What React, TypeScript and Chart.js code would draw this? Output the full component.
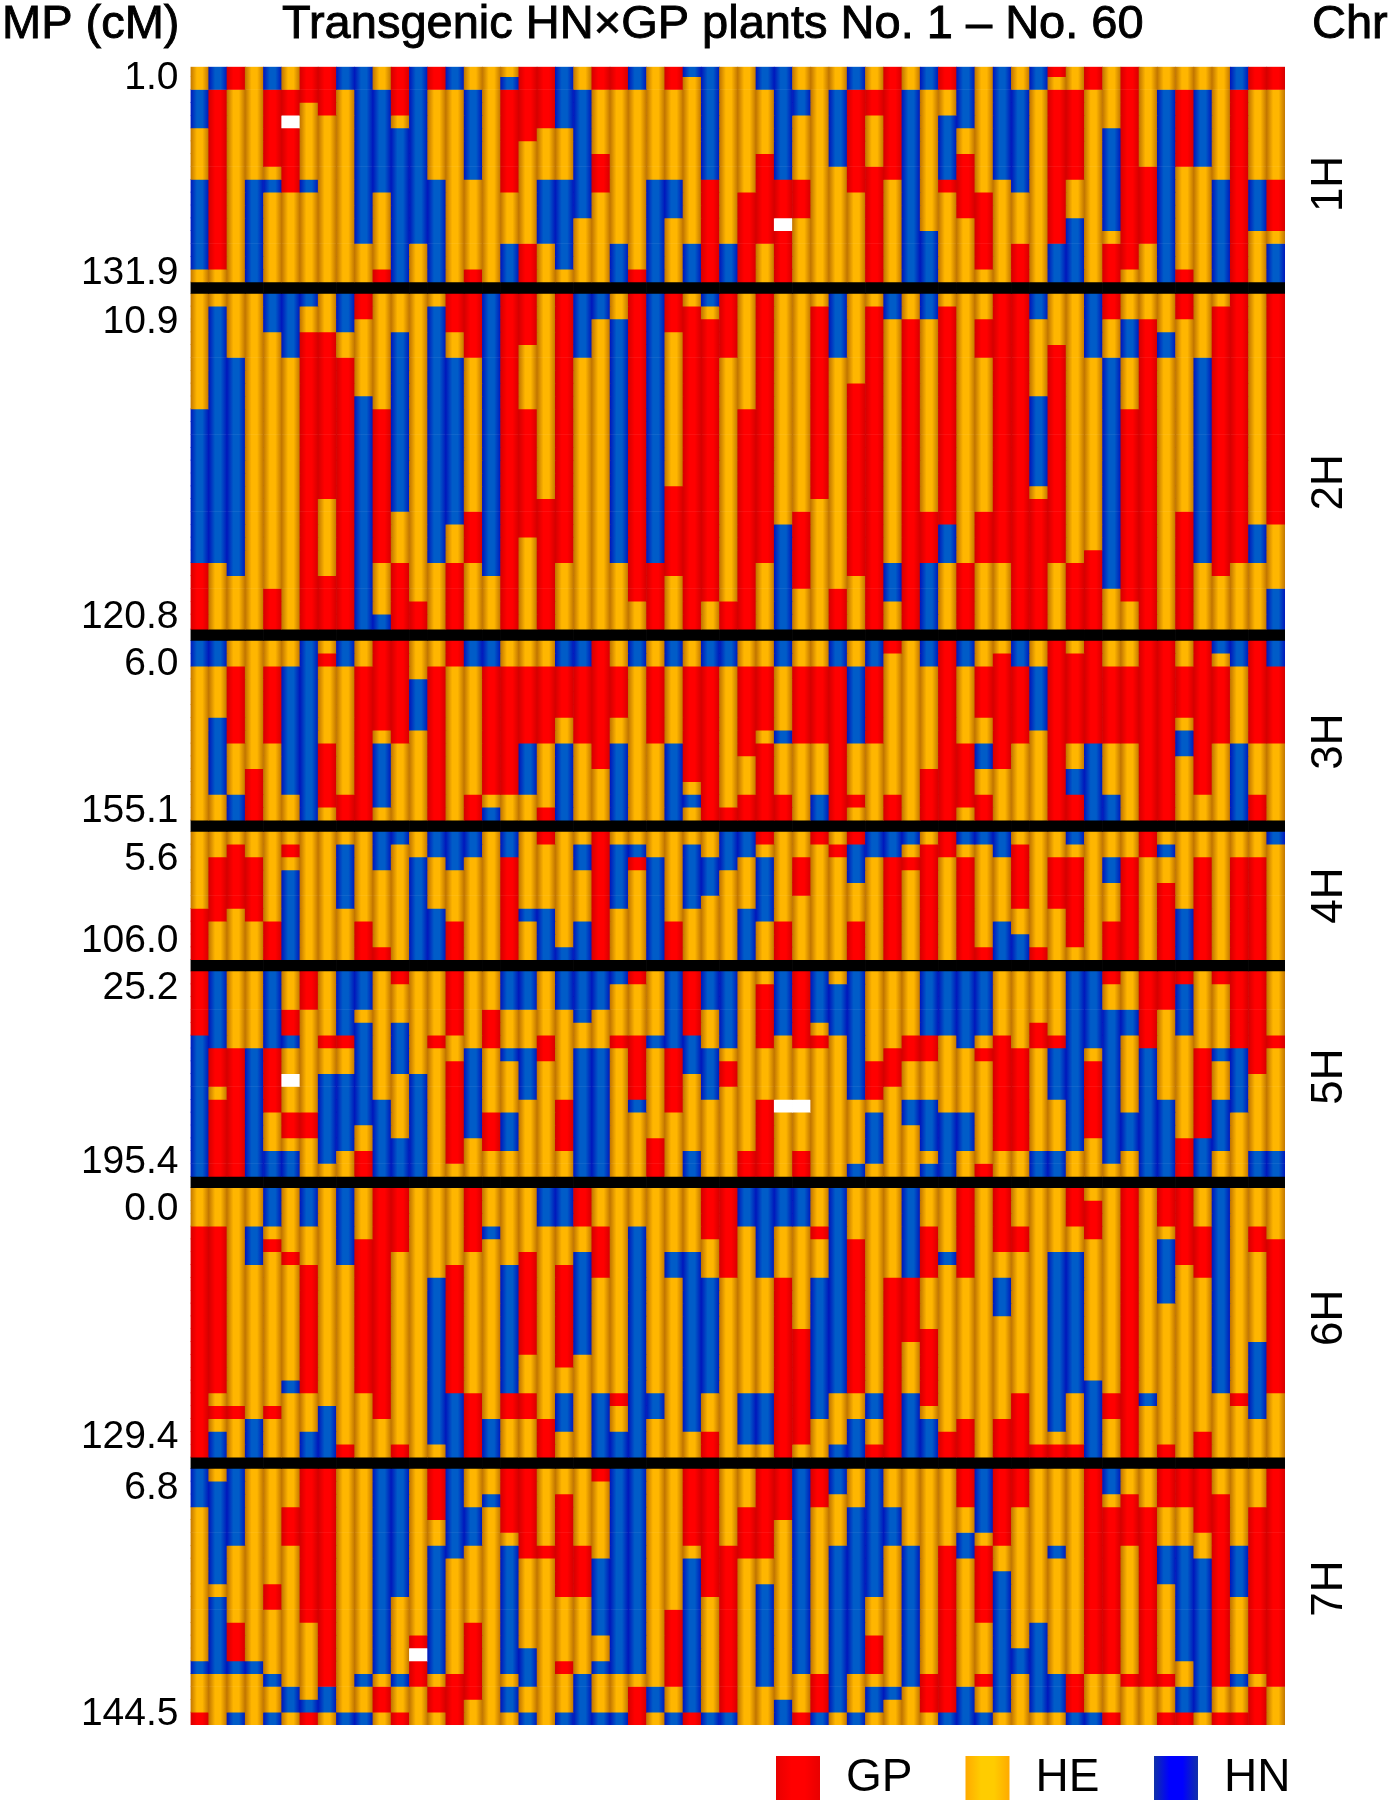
import React, { useEffect, useRef } from "react";
import { Chart, registerables } from "chart.js";

Chart.register(...registerables);

// Genotype runs per plant, top to bottom: G = GP, H = HE, N = HN, W = missing
const chr1H = ["H2N3H4N7H1","N2G14H1","G2H15","H9N8","N2G6H1N1H7","H2G2W1G5H7","G3H6N1H7","G4H13","N2H15","N14H3","H2N8H6G1","G4H1N12","N14H3","G2H7N8","N2H15","H2N7H7G1","H17","H1N1G8H4N3","G6H8G3","G5H4N5H3","N5H4N7H1","H2N10H5","G2H5G3H7","G2H12N3","N2H14G1","H9N8","G2H7N3H5","N1H13N3","N9G8","H14N3","H10G7","N2H5G7H3","N9G3W1G4","H2N2H5G3H5","H17","H2N6H9","N2G8H7","H2G2H4G9","G9H8","H2N15","N2H11N4","G2H2N5G1H7","N5H2G5H5","H10G6H1","N9H8","H2N8H4G3","N2H15","G1H1G12N3","H2G7H3N5","G2H15","H5N8H1G3","G16H1","H8G6H3","H2N15","H2G6H8G1","H2N6H9","H9N8","N2G15","G2H7N4H4","G2H7G4H1N3"];
const chr2H = ["H9N12G5","H1N20H5","H5N17H4","H26","N3H20G3","N5H21","N1H2G23","H3G13H6G4","N3H2G21","G2H6N18","H9G12H4N1","H3N14H4G5","H24G2","H1N20H5","G3H2N13H3G5","G5H12G4H5","N22H4","G26","G4H5G10H7","H16G10","G21H5","N5H21","N2H24","H2N19H5","G24H2","N21G5","G3H12G7H4","H1G25","N1H1G22H2","G5H19G2","H9G17","G21H5","H18N8","H17G6H3","H1G15H10","N5H18G3","H7G15H4","H1G25","N2H19N3H2","H2G24","N2H15G4N5","H1G17N3H5","H21G5","H2G3H12G4H5","G21H5","G26","N2H6N7H1G10","H4G17H5","H21G5","N5H15G6","G2H3N18H3","H2N3H4G15H2","H2G24","H3N2H21","G2H15G9","H5N16H5","H1G21H4","G21H5","H18N3H5","G18H5N3"];
const chr3H = ["N2H12","N2H4N6H2","H2G6H4N2","H10G4","H2G6H6","H2N10H2","N14","H1G1H6G5H1","N2H10G2","H2G12","G7H1N5H1","G8H6","H3N4H7","H2G12","G2H12","N2H10G2","N2G10H1N1","H2G10H2","H2G6N4H2","H2G6H5G1","N2G4H2N6","N2G6H6","G10H4","H2G4H2N6","N2H12","H2G6H6","N2H6N6","H2G9H1N1H1","N2G12","N2H11G1","H2G7H3G2","H2G5H1G6","N2H5N1H4G2","H2G6H6","H2G6H4N2","N2G12","H2N6H4G1H1","N2G6H6","G1H11G2","H14","N2H8G4","G14","N2H6G5H1","H2G4H2N2H2G2","H1G9H4","N2G6H6","H2N5H7","G14","H1G7H2N2G2","G8N6","H2G6H4N2","H2G6H6","G14","G14","H2G4H1N2H5","G12H2","N1H1G6H6","N2H6N6","G8H4G2","N2G6H6"];
const chr4H = ["H6G4","H2G5H3","H1G5H4","H2G5H3","H7G3","H1G1H1N7","H10","H10","H1N5H4","H7G3","N3H6G1","N1H9","H2N8","N2H4N4","N3H4G3","N2H8","H10","N2G8","H6N1H3","G1H5N4","H9N1","H1N2H4N3","G10","H1N5H4","H1N1G1H7","H2N8","H7G3","H1N5H4","H2N3H5","N3H7","N2H4N4","G1H1N5H3","H7G3","H2G3H5","G1H9","H1G1H8","G1N3H3G3","N2H8","N2G8","N1H1G1H7","H1G9","G2H8","N1H1G8","N1H8G1","N2H5N3","H1G5H2N2","H9G1","H2G4H4","N1H1G7H1","H10","H2N2H3G3","H2G8","G2H8","H1N1H2G6","H6N4","H2G8","H10","H2G8","H2G8","N1H9"];
const chr5H = ["G5N11","N6G3H1G6","H6G10","H6N10","N6G5H3N2","H3G2N1H2W1H2G2H1N2","G3H8G2H3","H5G1H2N7H1","N5G1H2N6H2","N3H1N8H2G2","H10N6","G1H3N4H5N3","H8N8","H5G1H10","G5H2G8H1","H6N7H3","H3G3H5G3H2","N3H3N1H4N3H2","N3H3N4H6","H5G2H9","N3H7G4H2","N4H2N10","N3H3N10","N1H4G1H10","G1H4G5N1H5","H5N1H7G3","N6G5H5","G5N3H6N2","N3H3N4H6","N6H1G2H7","H14G2","H1G5H4G6","N5H5W1H5","G6H4W1H3G2","N4H1G1H10","H1N4H11","N10H5N1","H7G3H1N4H1","H6G3H7","H5G2H3N2H4","N5G2H3N4H1N1","N5H6N5","N6H5N3H2","N5H1G1H8G1","H5G9H2","H6G8H2","H4G2H8N2","H5G1N4H4N2","N14H2","N6H1G6H3","G1H2N12H1","H3N2H6N3H2","G6N10","G3H7N6","G1N4H8G3","H6G7N3","G1H5N1H3N4H2","G6N5H5","G8H6N2","H5G1H8N2"];
const chr6H = ["H3G18","H3G13H1G1H1N2","H17G1H3","H3N3H12N3","N3H1G1H12G1H3","H5G1H9N1H5","N3H3G10H3N2","H17N4","N6H14G1","H4G12H5","G18H3","G5H15G1","H21","H7N13H1","H6G10N5","G5H11G5","H3N1H14N3","H6N10G2H3","H5G8H3G2H3","N3H15G3","N3H3G8H2N3H2","G3H2N8H8","H3G4H9N5","H16G1H2N2","H3N18","H16N2H3","H5N2H14","H5N14H2","G4H3N9H3G2","G7H14","N3H13N4H1","N7H9N4H1","N3H4G14","N3H8G9H1","H3G1H3N11H3","N16H4N1","H4G12H2N3","H16N2H2G1","H7G14","N7G5H4N5","H3G4H4G6H1N3","H5N1H13G2","G7H11G3","H21","G5H2N3H8G3","H3G2H11G5","H20G1","H5N14H1G1","G3H2N11H4G1","H1G3H11N6","H16G2H3","G21","H16N1H4","G3H1N5H11G1","G6H15","H3G4H12G2","N16H5","H16G1H4","H3G2H7N6H3","H4G12H5"];
const chr7H = ["N3H12N1H3G1","H1N8H1N6H4","N6H6G3N1H3N1","H15N1H4","H9G2H5N1H2N1","H3G3H11N2H1","G12H6N1G1","G17N2H1","H19N1","H16N1H2N1","N16H1G2H1","N10H6N1H2G1","H13G1W1G2H3","G4H2N10H1G2H1","N7H9G4","H3N3H6G6H2","H2N1H17","G5H1N10H1N2H1","G7H7N3H2N1","H6G1H13","H2G8H5G1H3N1","H6G4H6N4","G1H6N6H2N1H3N1","N16H3N1","N16H1G3","H17N2H1","H11G6H2N1","G6H1N12G1","G10H9N1","H6G13N1","H3G4H13","G7H2N8H3","G4H14N2","N16H3G1","G3H13G3N1","N2H4N13H1","H3N13H3N1","N10H3G3H1N2H1","H3N3H11N1H2","H6N11H3","H16G3H1","H6G13N1","G3H2N2H10N3","N5H1G6H4G1H2N1","G6H2N11H1","G3H11N2H4","H12N7H1","H6N1H9N3H1","H16G3N1","G16H3N1","N2H1G13H3G1","H2G4H10G1H3","H3G14H3","G3H3N3H7G1H2G1","G3H3N9H2N2G1","G5H2N12H1","H2G15H2G1","H6N4H6N1H2G1","H3G13H1G3","G17H3"];

const chromosomes = [chr1H, chr2H, chr3H, chr4H, chr5H, chr6H, chr7H];
const chrNames = ["1H", "2H", "3H", "4H", "5H", "6H", "7H"];
const chrLabelAt = [9.14, 32.4, 52.6, 64.6, 78.7, 97.5, 118.6];
const mpLabels = ["1.0","131.9","10.9","120.8","6.0","155.1","5.6","106.0","25.2","195.4","0.0","129.4","6.8","144.5"];
const mpLabelAt = [0.9,16.08,19.92,42.87,46.58,58.04,61.77,68.17,71.83,85.37,89.07,106.83,110.77,128.39];
const plants = Array.from({ length: 60 }, (_, i) => `No. ${i + 1}`);
const genotypeNames = ["GP", "HE", "HN"];
const genotypeCodes = ["G", "H", "N"];

// Display heights of rows that differ from one unit, and the separator's height
const rowHeightOverrides: Record<string, number> = { "0:0": 0.78, "1:25": 1.17 };
const bandHeight = 0.88;

const SHADES: Record<string, [string, string]> = {
  G: ["#d60000", "#ff0000"],
  H: ["#c27600", "#ffb600"],
  N: ["#0018bc", "#005cc8"],
  W: ["#ffffff", "#ffffff"],
  B: ["#000000", "#000000"],
};
const LEGEND_SHADES: Record<string, [string, string]> = {
  G: ["#e80000", "#ff0000"],
  H: ["#ffaa00", "#ffcc00"],
  N: ["#1030a8", "#0000ff"],
};

function expand(run: string): string[] {
  const out: string[] = [];
  for (const m of run.matchAll(/([GHNW])(\d+)/g)) {
    for (let i = 0; i < Number(m[2]); i++) out.push(m[1]);
  }
  return out;
}

type Row = { height: number; cells: string[] };

function buildRows(): Row[] {
  const rows: Row[] = [];
  chromosomes.forEach((chr, c) => {
    const cols = chr.map(expand);
    const n = cols[0].length;
    for (let r = 0; r < n; r++) {
      rows.push({
        height: rowHeightOverrides[`${c}:${r}`] ?? 1,
        cells: cols.map((col) => col[r] ?? "H"),
      });
    }
    if (c < chromosomes.length - 1) {
      rows.push({ height: bandHeight, cells: plants.map(() => "B") });
    }
  });
  return rows;
}

function columnGradient(ctx: CanvasRenderingContext2D, x0: number, x1: number, shades: [string, string]) {
  const g = ctx.createLinearGradient(x0, 0, x1, 0);
  g.addColorStop(0, shades[0]);
  g.addColorStop(0.35, shades[1]);
  g.addColorStop(0.65, shades[1]);
  g.addColorStop(1, shades[0]);
  return g;
}

const FONT = '"Liberation Sans", Arial, sans-serif';

function heavyText(ctx: CanvasRenderingContext2D, text: string, x: number, y: number) {
  ctx.fillText(text, x, y);
  ctx.strokeText(text, x, y);
}

const chartText = {
  id: "chartText",
  afterDraw(chart: any) {
    const ctx = chart.ctx as CanvasRenderingContext2D;
    ctx.save();
    ctx.fillStyle = "#000";
    ctx.strokeStyle = "#000";
    ctx.lineWidth = 0.9;
    ctx.textBaseline = "middle";
    ctx.textAlign = "left";
    ctx.font = `47px ${FONT}`;
    heavyText(ctx, "MP (cM)", 2, 25);
    heavyText(ctx, "Transgenic HN×GP plants No. 1 – No. 60", 282, 25);
    heavyText(ctx, "Chr", 1312, 25);

    const swatchX = [776, 965.5, 1154];
    genotypeNames.forEach((name, i) => {
      const x = swatchX[i];
      ctx.fillStyle = columnGradient(ctx, x, x + 44, LEGEND_SHADES[genotypeCodes[i]]);
      ctx.fillRect(x, 1756, 44, 44);
      ctx.fillStyle = "#000";
      ctx.font = `46px ${FONT}`;
      ctx.fillText(name, x + 70, 1778);
    });
    ctx.restore();
  },
};

export default function App() {
  const ref = useRef<HTMLCanvasElement>(null);

  useEffect(() => {
    const rows = buildRows();
    const total = rows.reduce((s, r) => s + r.height, 0);
    const cache = new Map<string, CanvasGradient>();

    const color = (c: any) => {
      const code: string = rows[c.datasetIndex]?.cells[c.dataIndex] ?? "H";
      const chart = c.chart;
      const xs = chart.scales?.x;
      if (!chart.chartArea || !xs) return SHADES[code][1];
      const key = `${code}${c.dataIndex}`;
      let g = cache.get(key);
      if (!g) {
        const half = (chart.chartArea.right - chart.chartArea.left) / plants.length / 2;
        const mid = xs.getPixelForValue(c.dataIndex);
        g = columnGradient(chart.ctx, mid - half, mid + half, SHADES[code]);
        cache.set(key, g);
      }
      return g;
    };

    const chart = new Chart(ref.current!, {
      type: "bar",
      data: {
        labels: plants,
        datasets: rows.map((row) => ({
          data: plants.map(() => row.height),
          backgroundColor: color,
          borderWidth: 0,
          barPercentage: 1,
          categoryPercentage: 1,
          yAxisID: "y",
        })),
      },
      options: {
        animation: false,
        responsive: false,
        layout: { padding: { top: 66.7, bottom: 80, left: 0, right: 0 } },
        plugins: { legend: { display: false }, tooltip: { enabled: false }, title: { display: false } },
        scales: {
          x: { display: false, stacked: true },
          y: {
            stacked: true,
            reverse: true,
            min: 0,
            max: total,
            position: "left",
            border: { display: false },
            grid: { display: false, drawTicks: false },
            afterFit: (s: any) => { s.width = 190.5; },
            afterBuildTicks: (s: any) => { s.ticks = mpLabelAt.map((value) => ({ value })); },
            ticks: {
              autoSkip: false,
              padding: 12,
              color: "#000",
              font: { family: FONT, size: 39 },
              callback: (_v: any, i: number) => mpLabels[i],
            },
          },
          chr: {
            type: "linear",
            reverse: true,
            min: 0,
            max: total,
            position: "right",
            border: { display: false },
            grid: { display: false, drawTicks: false },
            afterFit: (s: any) => { s.width = 110; },
            afterBuildTicks: (s: any) => { s.ticks = chrLabelAt.map((value) => ({ value })); },
            ticks: {
              autoSkip: false,
              minRotation: 90,
              maxRotation: 90,
              crossAlign: "center",
              padding: 17,
              color: "#000",
              font: { family: FONT, size: 44 },
              callback: (_v: any, i: number) => chrNames[i],
            },
          },
        },
      } as any,
      plugins: [chartText],
    });
    return () => chart.destroy();
  }, []);

  return (
    <div style={{ position: "absolute", left: 0, top: 0, width: 1395, height: 1805, background: "#fff" }}>
      <canvas ref={ref} width={1395} height={1805} style={{ display: "block" }} />
    </div>
  );
}
